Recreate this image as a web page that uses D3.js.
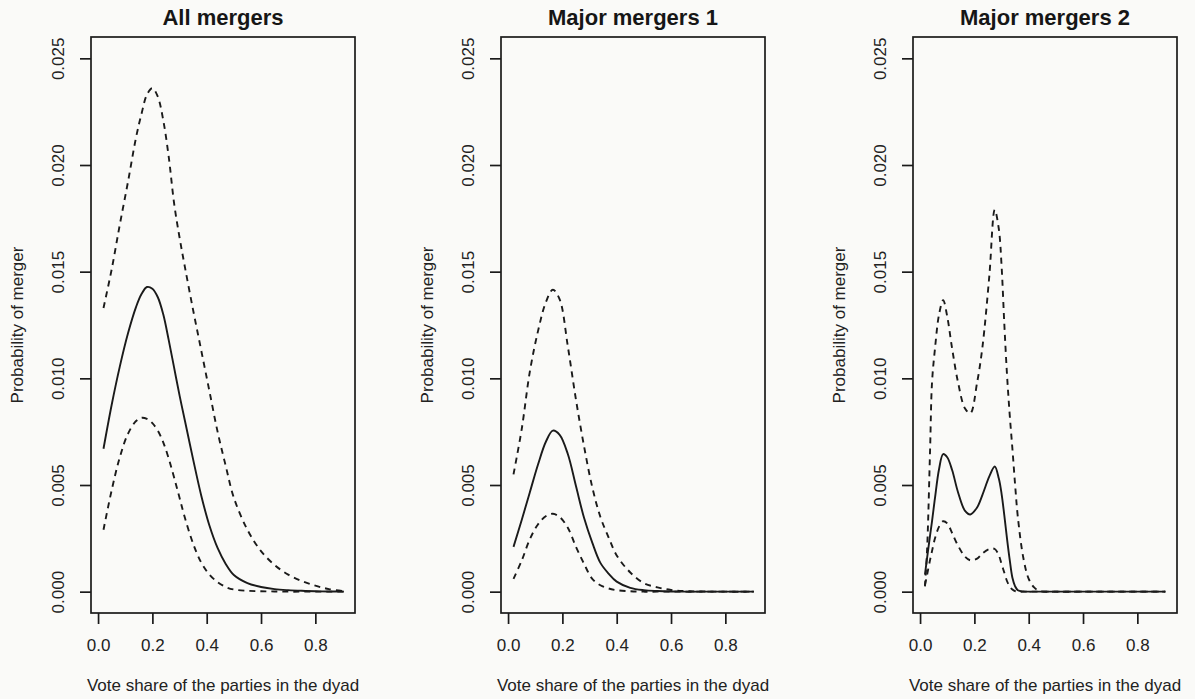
<!doctype html>
<html>
<head>
<title>Probability of merger by vote share</title>
<style>
body {
  margin: 0;
  background-color: #fafaf8;
}
svg {
  display: block;
  font-family: "Liberation Sans", Arial, sans-serif;
}
</style>
</head>
<body>
<svg width="1195" height="699" id="chart"></svg>
<script src="https://d3js.org/d3.v7.min.js"></script>
<script>
// values in units of 0.001 (probability of merger)
var titles = ["All mergers", "Major mergers 1", "Major mergers 2"];
var xTicks = [0, 0.2, 0.4, 0.6, 0.8];
var yTicks = [0, 0.005, 0.010, 0.015, 0.020, 0.025];

var allX     = [0.02, 0.05, 0.08, 0.11, 0.14, 0.16, 0.18, 0.20, 0.22, 0.24, 0.26, 0.28, 0.30, 0.32, 0.35, 0.38, 0.41, 0.44, 0.47, 0.50, 0.55, 0.60, 0.65, 0.70, 0.75, 0.80, 0.85, 0.905];
var allMean  = [6.7, 8.75, 10.55, 12.1, 13.35, 13.95, 14.28, 14.2, 13.8, 13.0, 11.8, 10.5, 9.2, 8.0, 6.2, 4.5, 3.1, 2.05, 1.3, 0.78, 0.4, 0.22, 0.12, 0.07, 0.04, 0.02, 0.01, 0];
var allUpper = [13.3, 15.1, 17.2, 19.2, 21.3, 22.4, 23.3, 23.6, 23.2, 22.1, 20.4, 18.2, 16.6, 15.2, 13.2, 11.3, 9.4, 7.5, 5.9, 4.4, 2.9, 1.9, 1.25, 0.8, 0.5, 0.28, 0.12, 0.03];
var allLower = [2.9, 4.75, 6.3, 7.4, 8.0, 8.15, 8.1, 7.9, 7.55, 7.0, 6.25, 5.35, 4.4, 3.45, 2.25, 1.36, 0.8, 0.45, 0.22, 0.1, 0.04, 0.02, 0.01, 0, 0, 0, 0, 0];

var maj1X     = [0.02, 0.05, 0.08, 0.11, 0.14, 0.165, 0.19, 0.22, 0.25, 0.28, 0.31, 0.34, 0.37, 0.40, 0.45, 0.50, 0.55, 0.60, 0.65, 0.70, 0.80, 0.905];
var maj1Mean  = [2.1, 3.35, 4.65, 5.95, 7.05, 7.55, 7.35, 6.45, 4.95, 3.45, 2.3, 1.35, 0.85, 0.47, 0.18, 0.07, 0.03, 0.01, 0, 0, 0, 0];
var maj1Upper = [5.5, 7.6, 10.3, 12.2, 13.6, 14.15, 13.7, 11.5, 9.0, 6.8, 4.9, 3.5, 2.55, 1.7, 0.9, 0.4, 0.2, 0.08, 0.03, 0.01, 0, 0];
var maj1Lower = [0.6, 1.45, 2.45, 3.15, 3.55, 3.65, 3.5, 3.0, 2.1, 1.3, 0.6, 0.3, 0.15, 0.07, 0.02, 0, 0, 0, 0, 0, 0, 0];

var maj2X     = [0.018, 0.026, 0.037, 0.044, 0.055, 0.07, 0.085, 0.10, 0.118, 0.14, 0.165, 0.185, 0.21, 0.23, 0.255, 0.275, 0.29, 0.30, 0.31, 0.32, 0.33, 0.34, 0.35, 0.36, 0.38, 0.40, 0.42, 0.44, 0.50, 0.60, 0.70, 0.80, 0.903];
var maj2Mean  = [0.8, 1.6, 2.65, 3.3, 4.4, 5.75, 6.45, 6.3, 5.7, 4.65, 3.8, 3.62, 3.95, 4.55, 5.4, 5.87, 5.3, 4.6, 3.6, 2.5, 1.5, 0.65, 0.25, 0.07, 0.01, 0, 0, 0, 0, 0, 0, 0, 0];
var maj2Upper = [0.25, 2.0, 6.7, 9.8, 11.4, 13.0, 13.66, 12.9, 11.4, 9.8, 8.6, 8.36, 9.8, 11.5, 14.8, 17.9, 17.0, 15.3, 12.6, 10.2, 8.3, 6.7, 5.0, 3.5, 1.6, 0.6, 0.2, 0.03, 0, 0, 0, 0, 0];
var maj2Lower = [0.3, 0.8, 1.5, 1.9, 2.5, 3.05, 3.3, 3.2, 2.75, 2.15, 1.65, 1.47, 1.55, 1.8, 2.0, 2.0, 1.7, 1.3, 0.9, 0.5, 0.25, 0.1, 0.03, 0, 0, 0, 0, 0, 0, 0, 0, 0, 0];

var panels = [
  {title: titles[0], x: allX, mean: allMean, upper: allUpper, lower: allLower},
  {title: titles[1], x: maj1X, mean: maj1Mean, upper: maj1Upper, lower: maj1Lower},
  {title: titles[2], x: maj2X, mean: maj2Mean, upper: maj2Upper, lower: maj2Lower}
];

var svg = d3.select("#chart");
var lefts = [91, 501, 913];
var boxW = 264, plotTop = 37, plotBottom = 613;
var ink = "#1a1a1a";

var y = d3.scaleLinear().domain([-0.001, 0.026]).range([plotBottom, plotTop]);

panels.forEach(function(p, i) {
  var x = d3.scaleLinear().domain([-0.026, 0.946]).range([lefts[i], lefts[i] + boxW]);
  var g = svg.append("g");

  // box
  g.append("rect")
    .attr("x", lefts[i]).attr("y", plotTop)
    .attr("width", boxW).attr("height", plotBottom - plotTop)
    .attr("fill", "none").attr("stroke", ink).attr("stroke-width", 1.7);

  // x axis
  var xa = g.append("g")
    .attr("transform", "translate(0," + plotBottom + ")")
    .call(d3.axisBottom(x).tickValues(xTicks).tickSize(11).tickSizeOuter(0).tickPadding(15)
      .tickFormat(d3.format(".1f")));
  xa.select(".domain").remove();
  xa.selectAll("line").attr("stroke", ink).attr("stroke-width", 1.7);
  xa.selectAll("text").attr("font-size", 17).attr("fill", "#222");

  // y axis
  var ya = g.append("g")
    .attr("transform", "translate(" + lefts[i] + ",0)")
    .call(d3.axisLeft(y).tickValues(yTicks).tickSize(11).tickSizeOuter(0).tickFormat(d3.format(".3f")));
  ya.select(".domain").remove();
  ya.selectAll("line").attr("stroke", ink).attr("stroke-width", 1.7);
  ya.selectAll("text")
    .attr("font-size", 17).attr("fill", "#222")
    .attr("x", null).attr("dy", null)
    .attr("text-anchor", "middle")
    .attr("transform", "translate(-27,0) rotate(-90)");

  // titles
  g.append("text")
    .attr("x", lefts[i] + boxW / 2).attr("y", 25)
    .attr("text-anchor", "middle")
    .attr("font-size", 22).attr("font-weight", "bold").attr("fill", "#161616")
    .text(p.title);

  g.append("text")
    .attr("x", lefts[i] + boxW / 2).attr("y", 691)
    .attr("text-anchor", "middle")
    .attr("font-size", 17).attr("fill", "#222")
    .text("Vote share of the parties in the dyad");

  g.append("text")
    .attr("transform", "translate(" + (lefts[i] - 68) + "," + ((plotTop + plotBottom) / 2) + ") rotate(-90)")
    .attr("text-anchor", "middle")
    .attr("font-size", 17).attr("fill", "#222")
    .text("Probability of merger");

  // curves
  var line = d3.line()
    .x(function(d) { return x(d[0]); })
    .y(function(d) { return y(Math.max(0, d[1]) / 1000); })
    .curve(d3.curveCatmullRom.alpha(0.5));

  [[p.upper, "6,5"], [p.lower, "6,5"], [p.mean, null]].forEach(function(s) {
    var pts = p.x.map(function(v, k) { return [v, s[0][k]]; });
    g.append("path")
      .datum(pts)
      .attr("d", line)
      .attr("fill", "none")
      .attr("stroke", ink)
      .attr("stroke-width", 1.9)
      .attr("stroke-dasharray", s[1]);
  });
});
</script>
</body>
</html>
